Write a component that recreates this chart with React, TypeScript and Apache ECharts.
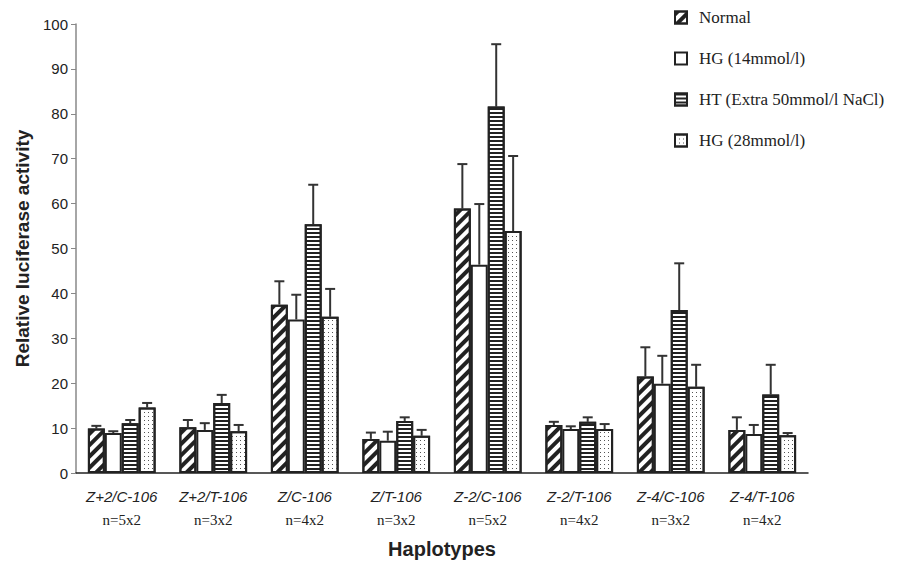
import React, { useEffect, useRef } from "react";
import * as echarts from "echarts";

const haplotypes = ["Z+2/C-106", "Z+2/T-106", "Z/C-106", "Z/T-106", "Z-2/C-106", "Z-2/T-106", "Z-4/C-106", "Z-4/T-106"];
const sampleSizes = ["n=5x2", "n=3x2", "n=4x2", "n=3x2", "n=5x2", "n=4x2", "n=3x2", "n=4x2"];
const seriesNames = ["Normal", "HG (14mmol/l)", "HT (Extra 50mmol/l NaCl)", "HG (28mmol/l)"];

const normalMean = [9.9, 10.2, 37.5, 7.6, 58.9, 10.7, 21.5, 9.6];
const normalErr = [0.6, 1.6, 5.2, 1.4, 9.9, 0.7, 6.5, 2.8];
const hg14Mean = [8.9, 9.6, 34.2, 7.2, 46.4, 9.8, 19.9, 8.7];
const hg14Err = [0.4, 1.5, 5.5, 2.0, 13.5, 0.6, 6.2, 2.0];
const htMean = [11.1, 15.6, 55.4, 11.6, 81.6, 11.4, 36.3, 17.5];
const htErr = [0.7, 1.8, 8.8, 0.8, 13.9, 1.0, 10.4, 6.6];
const hg28Mean = [14.6, 9.3, 34.8, 8.3, 53.9, 9.8, 19.2, 8.4];
const hg28Err = [1.0, 1.4, 6.2, 1.3, 16.7, 1.1, 4.9, 0.5];

const yTicks = [0, 10, 20, 30, 40, 50, 60, 70, 80, 90, 100];

const means = [normalMean, hg14Mean, htMean, hg28Mean];
const errs = [normalErr, hg14Err, htErr, hg28Err];

const GAP = 0.26;
const INK = "#222";

const decals: any[] = [
  { symbol: "rect", color: INK, dashArrayX: [1, 0], dashArrayY: [3.5, 3.5], rotation: -Math.PI / 4 },
  null,
  { symbol: "rect", color: INK, dashArrayX: [1, 0], dashArrayY: [2, 2], rotation: 0 },
  { symbol: "rect", color: "#555", symbolSize: 1, dashArrayX: [1, 3], dashArrayY: [1, 3], rotation: 0 },
];

export default function App() {
  const ref = useRef<HTMLDivElement>(null);
  useEffect(() => {
    if (!ref.current) return;
    const chart = echarts.init(ref.current, undefined, { renderer: "svg" });

    const barSeries = seriesNames.map((name, k) => ({
      name,
      type: "bar",
      data: means[k],
      barCategoryGap: `${GAP * 100}%`,
      barGap: "0%",
      itemStyle: {
        color: "#fff",
        borderColor: INK,
        borderWidth: 2,
        ...(decals[k] ? { decal: decals[k] } : {}),
      },
      z: 2,
    }));

    const errSeries = seriesNames.map((name, k) => ({
      name: name + " error",
      type: "custom",
      data: means[k].map((v, i) => [i, v, errs[k][i]]),
      z: 1,
      silent: true,
      renderItem: (params: any, api: any) => {
        const ci = api.value(0);
        const v = api.value(1);
        const e = api.value(2);
        const base = api.coord([ci, v]);
        const top = api.coord([ci, v + e]);
        const band = api.size([1, 0])[0];
        const groupW = band * (1 - GAP);
        const bw = groupW / 4;
        const x = base[0] - groupW / 2 + (k + 0.5) * bw;
        const style = { stroke: "#333", lineWidth: 2 };
        return {
          type: "group",
          children: [
            { type: "line", shape: { x1: x, y1: base[1], x2: x, y2: top[1] }, style },
            { type: "line", shape: { x1: x - 5, y1: top[1], x2: x + 5, y2: top[1] }, style },
          ],
        };
      },
    }));

    chart.setOption({
      animation: false,
      backgroundColor: "#fff",
      grid: { left: 76, right: 99, top: 24, bottom: 89, containLabel: false },
      legend: {
        data: seriesNames,
        orient: "vertical",
        left: 669,
        top: 4,
        itemWidth: 12,
        itemHeight: 12,
        itemGap: 24,
        icon: "rect",
        textStyle: { fontFamily: "Liberation Serif", fontSize: 17, color: INK, padding: [0, 0, 0, 7] },
      },
      xAxis: {
        type: "category",
        data: haplotypes,
        name: "Haplotypes",
        nameLocation: "middle",
        nameGap: 66,
        nameTextStyle: { fontFamily: "Liberation Sans", fontWeight: "bold", fontSize: 20, color: INK },
        axisLine: { lineStyle: { color: INK, width: 1.5 } },
        axisTick: { show: false },
        axisLabel: {
          margin: 11,
          interval: 0,
          formatter: (val: string, idx: number) => `{a|${val}}\n{b|${sampleSizes[idx]}}`,
          rich: {
            a: { fontFamily: "Liberation Sans", fontStyle: "italic", fontSize: 15, color: INK, lineHeight: 24 },
            b: { fontFamily: "Liberation Serif", fontSize: 15, color: INK, lineHeight: 24 },
          },
        },
      },
      yAxis: {
        type: "value",
        min: yTicks[0],
        max: yTicks[yTicks.length - 1],
        interval: 10,
        name: "Relative luciferase activity",
        nameLocation: "middle",
        nameGap: 44,
        nameTextStyle: { fontFamily: "Liberation Sans", fontWeight: "bold", fontSize: 19, color: INK },
        axisLine: { show: true, lineStyle: { color: "#888", width: 1.5 } },
        axisTick: { show: true, length: 5, lineStyle: { color: "#888" } },
        axisLabel: { fontFamily: "Liberation Sans", fontSize: 15, color: INK, margin: 8 },
        splitLine: { show: false },
      },
      series: [...errSeries, ...barSeries],
    });
    return () => chart.dispose();
  }, []);
  return <div ref={ref} style={{ position: "fixed", left: 0, top: 0, width: 907, height: 564 }} />;
}
